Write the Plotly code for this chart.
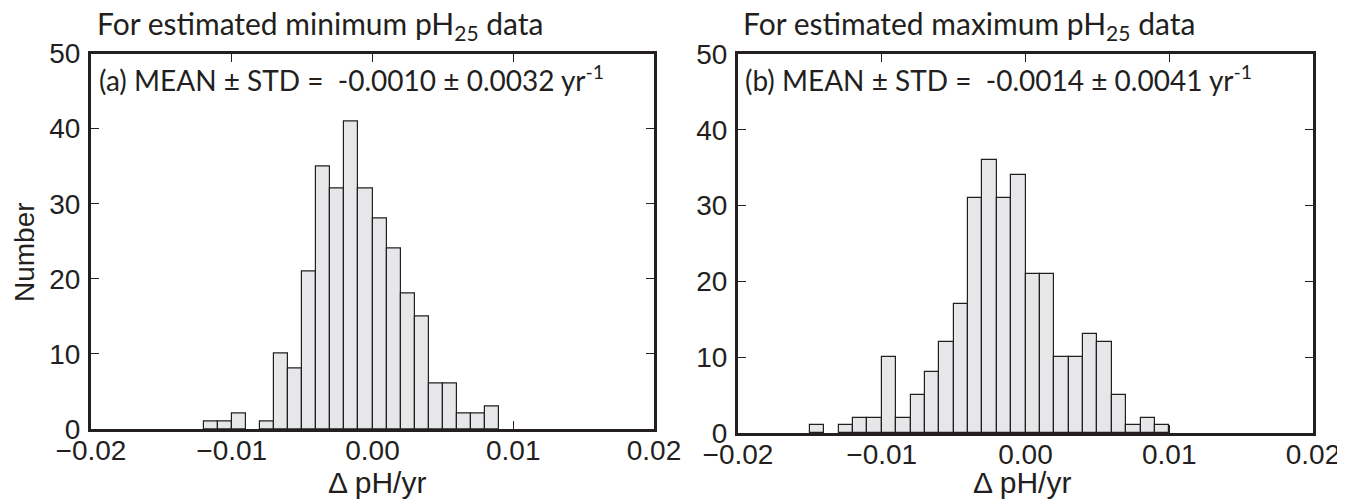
import plotly.graph_objects as go

# the page body adds an 8px margin; lay out in window pixels and convert
OFF = 8
W, H = 1345 - OFF, 502 - OFF


def fx(px):
    return (px - OFF) / W


def fy(py):
    return 1 - (py - OFF) / H


# bin left edges (ΔpH/yr) and counts
bin_width = 0.001
edges_a = [-0.012, -0.011, -0.010, -0.009, -0.008, -0.007, -0.006, -0.005, -0.004, -0.003,
           -0.002, -0.001, 0.000, 0.001, 0.002, 0.003, 0.004, 0.005, 0.006, 0.007, 0.008]
counts_a = [1, 1, 2, 0, 1, 10, 8, 21, 35, 32, 41, 32, 28, 24, 18, 15, 6, 6, 2, 2, 3]

edges_b = [-0.015, -0.014, -0.013, -0.012, -0.011, -0.010, -0.009, -0.008, -0.007, -0.006,
           -0.005, -0.004, -0.003, -0.002, -0.001, 0.000, 0.001, 0.002, 0.003, 0.004,
           0.005, 0.006, 0.007, 0.008, 0.009]
counts_b = [1, 0, 1, 2, 2, 10, 2, 5, 8, 12, 17, 31, 36, 31, 34, 21, 21, 10, 10, 13,
            12, 5, 1, 2, 1]

x_ticks = [-0.02, -0.01, 0.0, 0.01, 0.02]
y_ticks = [0, 10, 20, 30, 40, 50]

titles = ["For estimated minimum pH<sub>25</sub> data",
          "For estimated maximum pH<sub>25</sub> data"]
stats = ["(a) MEAN \u00b1 STD =  -0.0010 \u00b1 0.0032 yr<sup>-1</sup>",
         "(b) MEAN \u00b1 STD =  -0.0014 \u00b1 0.0041 yr<sup>-1</sup>"]
x_label = "\u0394 pH/yr"
y_label = "Number"

fill = "#e6e7e8"
edge = "#231f20"
ink = "#231f20"

fig = go.Figure()
for i, (ed, ct) in enumerate([(edges_a, counts_a), (edges_b, counts_b)]):
    sfx = "" if i == 0 else "2"
    keep = [(e, c) for e, c in zip(ed, ct) if c > 0]
    fig.add_trace(go.Bar(
        x=[k[0] for k in keep], y=[k[1] for k in keep],
        width=bin_width, offset=0,
        marker=dict(color=fill, line=dict(color=edge, width=1.2)),
        xaxis="x" + sfx, yaxis="y" + sfx, showlegend=False,
    ))

sans = "Liberation Sans, Arial, sans-serif"
tickfont = dict(family=sans, size=28, color=ink)
axis_common = dict(showline=True, linewidth=3, linecolor=ink, mirror="allticks",
                   ticks="inside", ticklen=8, tickwidth=1.2, tickcolor=ink,
                   showgrid=False, zeroline=False, tickfont=tickfont, automargin=False)

dom_a = [fx(91), fx(654)]
dom_b = [fx(738), fx(1313)]
ydom_a = [fy(429), fy(53.5)]
ydom_b = [fy(433), fy(54)]

fig.update_layout(
    width=W, height=H, margin=dict(l=0, r=0, t=0, b=0),
    plot_bgcolor="white", paper_bgcolor="white", bargap=0,
    xaxis=dict(domain=dom_a, range=[-0.02, 0.02], tickvals=x_ticks, tickformat=".2f",
               anchor="y", ticklabelstandoff=-6, **axis_common),
    yaxis=dict(domain=ydom_a, range=[0, 50], tickvals=y_ticks, anchor="x",
               ticklabelstandoff=2, **axis_common),
    xaxis2=dict(domain=dom_b, range=[-0.02, 0.02], tickvals=x_ticks, tickformat=".2f",
                anchor="y2", ticklabelstandoff=-6, **axis_common),
    yaxis2=dict(domain=ydom_b, range=[0, 50], tickvals=y_ticks, anchor="x2",
                ticklabelstandoff=2, **axis_common),
)

title_font = dict(family="Lato, Open Sans, sans-serif", size=30, color=ink)
stats_font = dict(family="Lato, Open Sans, sans-serif", size=28, color=ink)
for i in range(2):
    x0 = fx(95 if i == 0 else 741)
    fig.add_annotation(text=titles[i], xref="paper", yref="paper", x=x0, y=fy(25),
                       xanchor="left", yanchor="middle", showarrow=False, font=title_font)
    fig.add_annotation(text=stats[i], xref="paper", yref="paper", x=fx(97 if i == 0 else 743),
                       y=fy(79), xanchor="left", yanchor="middle", showarrow=False,
                       font=stats_font)
    fig.add_annotation(text=x_label, xref="paper", yref="paper", x=fx(377 if i == 0 else 1022),
                       y=fy(482), xanchor="center", yanchor="middle", showarrow=False,
                       font=dict(family=sans, size=30, color=ink))

fig.add_annotation(text=y_label, xref="paper", yref="paper", x=fx(24), y=fy(252),
                   xanchor="center", yanchor="middle", showarrow=False, textangle=-90,
                   font=dict(family=sans, size=28, color=ink))

fig.write_html("out.html")
